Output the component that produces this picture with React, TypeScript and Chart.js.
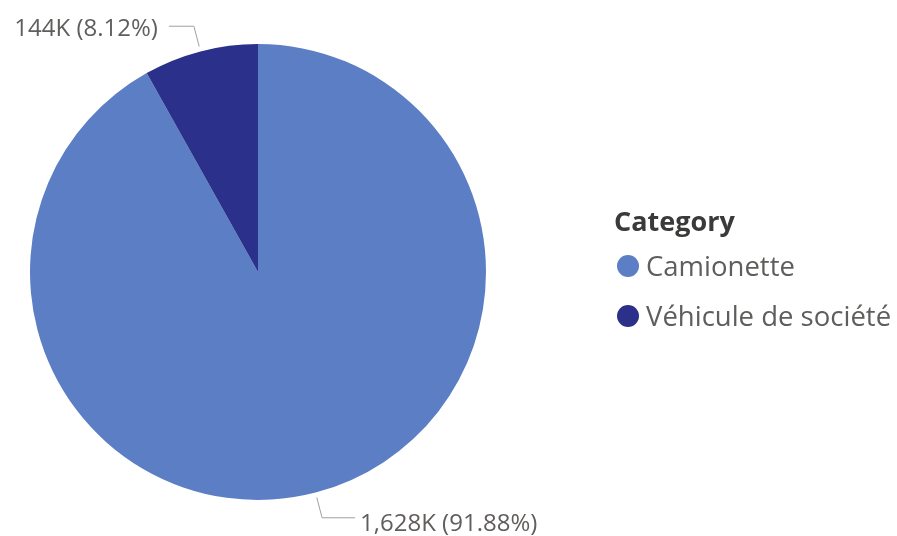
import React, { useEffect, useRef } from "react";
import { Chart, registerables } from "chart.js";

Chart.register(...registerables);

const categories = ["Camionette", "Véhicule de société"];
const values = [1628.3, 143.9]; // thousands
const colors = ["#5B7EC4", "#2B308A"];
const legendTitle = "Category";

const FONT = '"Segoe UI", "Open Sans", sans-serif';

function fmtLabel(v: number, total: number) {
  const k = Math.round(v).toLocaleString("en-US") + "K";
  const pct = ((v / total) * 100).toFixed(2) + "%";
  return `${k} (${pct})`;
}

const labelPlugin = {
  id: "leaderLabels",
  afterDatasetsDraw(chart: any) {
    const ctx = chart.ctx;
    const meta = chart.getDatasetMeta(0);
    const data = chart.data.datasets[0].data as number[];
    const total = data.reduce((a, b) => a + b, 0);
    const size = 24;
    ctx.save();
    meta.data.forEach((arc: any, i: number) => {
      const { x, y, startAngle, endAngle, outerRadius } = arc.getProps(
        ["x", "y", "startAngle", "endAngle", "outerRadius"],
        true
      );
      const a = (startAngle + endAngle) / 2;
      const c = Math.cos(a), s = Math.sin(a);
      const p0 = { x: x + (outerRadius + 5) * c, y: y + (outerRadius + 5) * s };
      const p1 = { x: x + (outerRadius + 26) * c, y: y + (outerRadius + 26) * s };
      const dir = c >= 0 ? 1 : -1;
      const hLen = dir > 0 ? 33 : 25;
      const gap = dir > 0 ? 5 : 11;
      const dy = dir > 0 ? 5 : 1;
      const p2 = { x: p1.x + dir * hLen, y: p1.y };
      ctx.strokeStyle = "#a0a0a0";
      ctx.lineWidth = 1;
      ctx.beginPath();
      ctx.moveTo(p0.x, p0.y);
      ctx.lineTo(p1.x, p1.y);
      ctx.lineTo(p2.x, p2.y);
      ctx.stroke();
      ctx.fillStyle = "#605E5C";
      ctx.font = `${size}px ${FONT}`;
      ctx.textBaseline = "alphabetic";
      ctx.textAlign = dir > 0 ? "left" : "right";
      ctx.fillText(fmtLabel(data[i], total), p2.x + dir * gap, p2.y + dy + 0.357 * size);
    });
    ctx.restore();
  },
};

export default function App() {
  const ref = useRef<HTMLCanvasElement>(null);
  useEffect(() => {
    if (!ref.current) return;
    const chart = new Chart(ref.current, {
      type: "pie",
      data: {
        labels: categories,
        datasets: [
          {
            data: values,
            backgroundColor: colors,
            borderWidth: 0,
          },
        ],
      },
      options: {
        animation: false,
        responsive: false,
        maintainAspectRatio: false,
        layout: { padding: { top: 44, bottom: 36, left: 30, right: 411 } },
        plugins: {
          legend: { display: false },
          tooltip: { enabled: false },
        },
      },
      plugins: [labelPlugin],
    });
    return () => chart.destroy();
  }, []);

  const rowCenters = [266, 316];
  const LH = 34;

  return (
    <div style={{ position: "fixed", left: 0, top: 0, width: 897, height: 536, background: "#fff", overflow: "hidden" }}>
      <canvas ref={ref} width={897} height={536} style={{ position: "absolute", left: 0, top: 0 }} />
      <div
        style={{
          position: "absolute",
          left: 614,
          top: 221 - LH / 2,
          height: LH,
          lineHeight: `${LH}px`,
          fontFamily: FONT,
          fontWeight: 700,
          fontSize: 27,
          color: "#3b3a39",
          whiteSpace: "nowrap",
        }}
      >
        {legendTitle}
      </div>
      {categories.map((c, i) => (
        <React.Fragment key={c}>
          <span
            style={{
              position: "absolute",
              left: 617,
              top: rowCenters[i] - 11,
              width: 22,
              height: 22,
              borderRadius: "50%",
              background: colors[i],
            }}
          />
          <div
            style={{
              position: "absolute",
              left: 646,
              top: rowCenters[i] - LH / 2,
              height: LH,
              lineHeight: `${LH}px`,
              fontFamily: FONT,
              fontSize: 27.5,
              color: "#605E5C",
              whiteSpace: "nowrap",
            }}
          >
            {c}
          </div>
        </React.Fragment>
      ))}
    </div>
  );
}
